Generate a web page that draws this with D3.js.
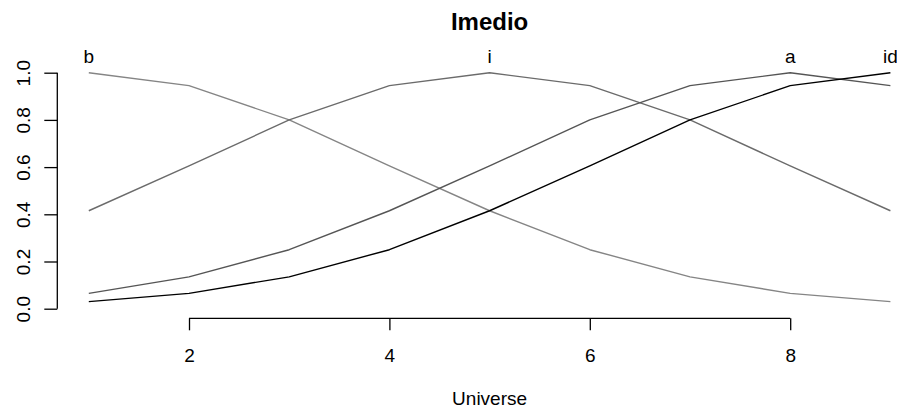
<!DOCTYPE html>
<html>
<head>
<meta charset="utf-8">
<script src="https://cdn.jsdelivr.net/npm/d3@7"></script>
<style>
  html, body { margin: 0; padding: 0; background: #fff; }
  svg { display: block; font-family: "Liberation Sans", Arial, Helvetica, sans-serif; }
</style>
</head>
<body>
<svg id="chart" width="897" height="409"></svg>
<script>
// Universe of discourse and membership degrees of each fuzzy set
const universe = [1, 2, 3, 4, 5, 6, 7, 8, 9];
const setNames = ["b", "i", "a", "id"];
const setPeaks = [1, 5, 8, 9];
const bValues  = [1.0, 0.945, 0.80, 0.605, 0.415, 0.25, 0.135, 0.065, 0.03];
const iValues  = [0.415, 0.605, 0.80, 0.945, 1.0, 0.945, 0.80, 0.605, 0.415];
const aValues  = [0.065, 0.135, 0.25, 0.415, 0.605, 0.80, 0.945, 1.0, 0.945];
const idValues = [0.03, 0.065, 0.135, 0.25, 0.415, 0.605, 0.80, 0.945, 1.0];
const setColors = ["#858585", "#6b6b6b", "#555555", "#000000"];
const xTicks = [2, 4, 6, 8];
const yTicks = [0, 0.2, 0.4, 0.6, 0.8, 1.0];
const titleText = "Imedio";
const xLabel = "Universe";

const series = [bValues, iValues, aValues, idValues];
const FONT = "'Liberation Sans', Arial, sans-serif";

const svg = d3.select("#chart");

const x = d3.scaleLinear().domain([1, 9]).range([88.8, 890.4]);
const y = d3.scaleLinear().domain([0, 1]).range([308.7, 72.7]);

// Y axis (R-style detached axis)
const yAxis = svg.append("g").attr("transform", "translate(57.3,0)");
yAxis.call(d3.axisLeft(y).tickValues(yTicks).tickSize(13).tickFormat(d3.format(".1f")));
yAxis.select(".domain").attr("d", `M0,${y(0)}V${y(1)}`).attr("stroke", "#000").attr("stroke-width", 1.3);
yAxis.selectAll(".tick line").attr("stroke", "#000").attr("stroke-width", 1.3);
yAxis.selectAll(".tick text")
  .attr("x", 0).attr("dy", null).attr("y", 0)
  .attr("transform", "translate(-27.8,0) rotate(-90)")
  .attr("text-anchor", "middle")
  .attr("fill", "#000")
  .style("font-size", "19px")
  .style("font-family", FONT);

// X axis
const xAxis = svg.append("g").attr("transform", "translate(0,318.3)");
xAxis.call(d3.axisBottom(x).tickValues(xTicks).tickSize(12).tickFormat(d3.format("d")));
xAxis.select(".domain").attr("d", `M${x(2)},0H${x(8)}`).attr("stroke", "#000").attr("stroke-width", 1.3);
xAxis.selectAll(".tick line").attr("stroke", "#000").attr("stroke-width", 1.3);
xAxis.selectAll(".tick text")
  .attr("y", 43.4).attr("dy", null)
  .attr("fill", "#000")
  .style("font-size", "19px")
  .style("font-family", FONT);

// Membership curves
const line = d3.line().x((d, i) => x(universe[i])).y(d => y(d));
svg.append("g").selectAll("path")
  .data(series)
  .join("path")
  .attr("d", d => line(d))
  .attr("fill", "none")
  .attr("stroke", (d, i) => setColors[i])
  .attr("stroke-width", 1.4)
  .attr("stroke-linejoin", "round");

// Set names above each curve's peak
svg.append("g").selectAll("text")
  .data(setNames)
  .join("text")
  .attr("x", (d, i) => x(setPeaks[i]))
  .attr("y", 62.9)
  .attr("text-anchor", "middle")
  .style("font-size", "19px")
  .text(d => d);

// Title and axis label
svg.append("text")
  .attr("x", x(5)).attr("y", 29.5)
  .attr("text-anchor", "middle")
  .style("font-size", "24px").style("font-weight", "bold")
  .text(titleText);

svg.append("text")
  .attr("x", x(5)).attr("y", 405)
  .attr("text-anchor", "middle")
  .style("font-size", "19px")
  .text(xLabel);
</script>
</body>
</html>
